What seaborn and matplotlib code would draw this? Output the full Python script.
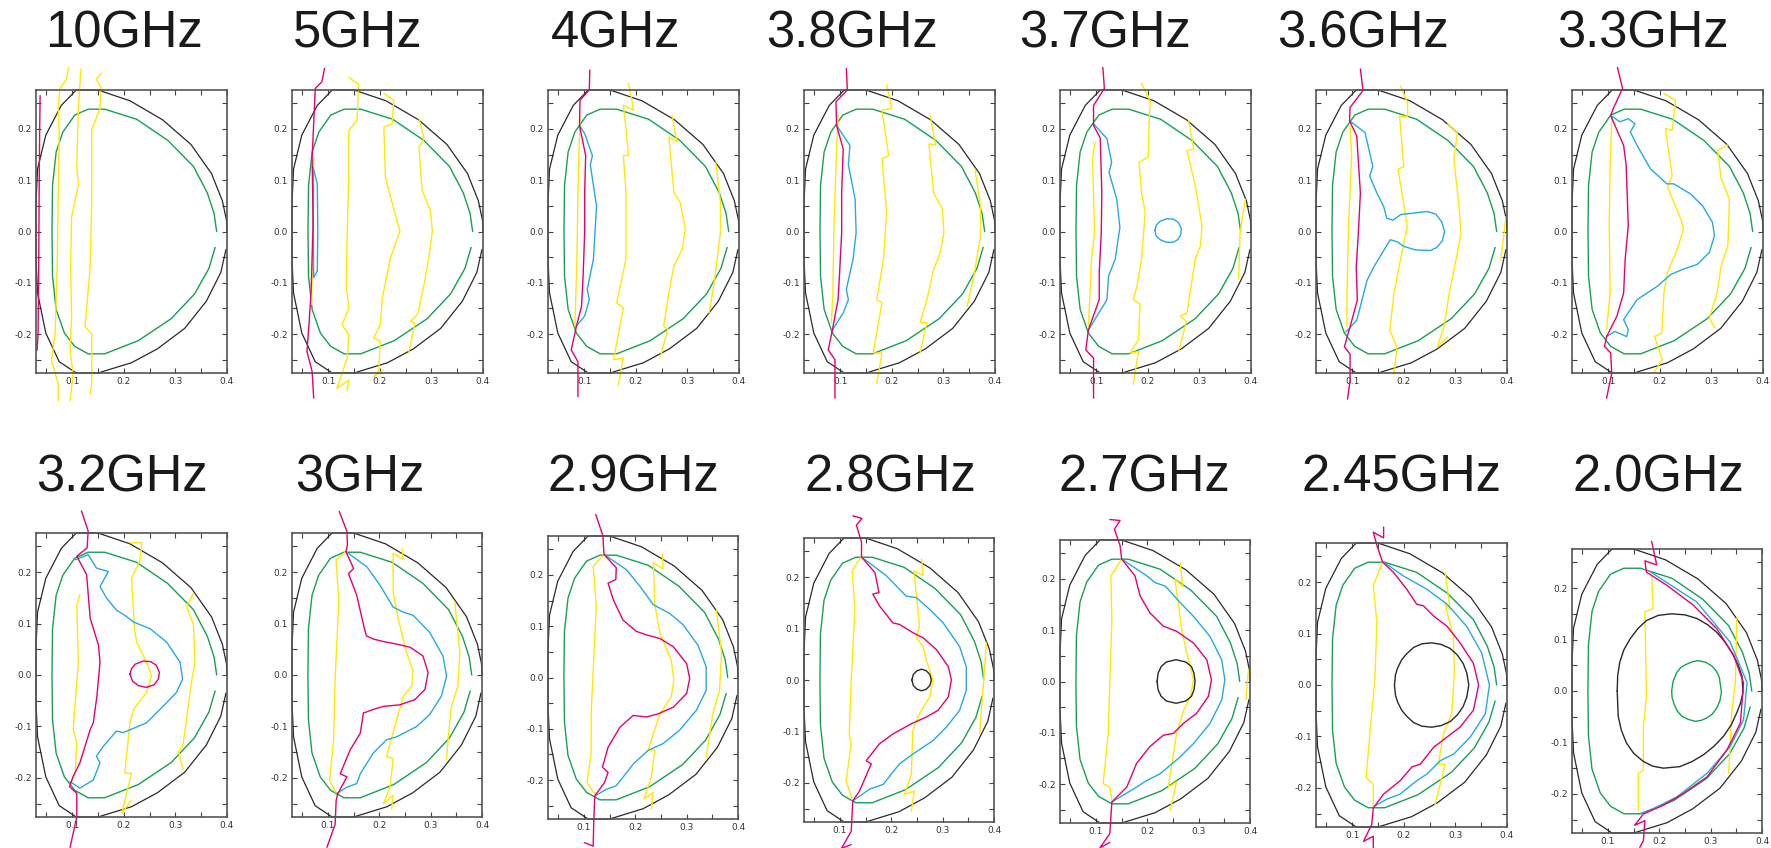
import matplotlib
matplotlib.use("Agg")
import matplotlib.pyplot as plt
import pandas as pd
import seaborn as sns
from matplotlib.ticker import MultipleLocator, FixedLocator

sns.set_style("ticks")
plt.rcParams["font.family"] = ["Liberation Sans", "DejaVu Sans"]
plt.rcParams["axes.unicode_minus"] = False

# ---------------- data (R, Z) ----------------
TITLES = ["10GHz", "5GHz", "4GHz", "3.8GHz", "3.7GHz", "3.6GHz", "3.3GHz",
          "3.2GHz", "3GHz", "2.9GHz", "2.8GHz", "2.7GHz", "2.45GHz", "2.0GHz"]
XTICKS = [0.1, 0.2, 0.3, 0.4]
YTICKS = [-0.2, -0.1, 0.0, 0.1, 0.2]
YTICK_LABELS = ["-0.2", "-0.1", "0.0", "0.1", "0.2"]

OUTER = [(0.398, -0.035), (0.388, -0.080), (0.360, -0.136), (0.318, -0.189), (0.265, -0.229),
         (0.215, -0.256), (0.150, -0.276), (0.108, -0.276), (0.075, -0.254), (0.049, -0.198),
         (0.033, -0.120), (0.030, -0.054), (0.030, 0.0), (0.030, 0.054), (0.033, 0.122),
         (0.049, 0.188), (0.079, 0.246), (0.108, 0.276), (0.150, 0.276), (0.212, 0.255),
         (0.275, 0.218), (0.330, 0.170), (0.370, 0.113), (0.391, 0.060), (0.399, 0.022), (0.400, 0.0)]
INNER = [(0.377, -0.031), (0.365, -0.072), (0.337, -0.122), (0.292, -0.170), (0.228, -0.213),
         (0.163, -0.2386), (0.131, -0.2386), (0.105, -0.224), (0.085, -0.198), (0.069, -0.152),
         (0.062, -0.087), (0.061, 0.0), (0.062, 0.0895), (0.069, 0.155), (0.082, 0.194),
         (0.105, 0.227), (0.131, 0.2386), (0.163, 0.2386), (0.225, 0.219), (0.285, 0.178),
         (0.335, 0.127), (0.362, 0.075), (0.375, 0.035), (0.380, 0.0)]

# 10GHz
P01_MAG = [(0.038, 0.265), (0.037, 0.19), (0.036, 0.06), (0.035, -0.1), (0.034, -0.2), (0.032, -0.232)]
P01_YA = [(0.093, 0.32), (0.089, 0.297), (0.076, 0.278), (0.073, 0.239), (0.075, 0.193), (0.073, 0.062),
          (0.071, -0.069), (0.067, -0.199), (0.060, -0.252), (0.073, -0.297), (0.073, -0.33)]
P01_YB = [(0.117, 0.317), (0.112, 0.239), (0.109, 0.127), (0.112, 0.09), (0.099, 0.029), (0.097, -0.069),
          (0.099, -0.167), (0.096, -0.232), (0.102, -0.278), (0.096, -0.33)]
P01_YC = [(0.157, 0.309), (0.147, 0.297), (0.156, 0.28), (0.154, 0.239), (0.138, 0.199), (0.138, 0.062),
          (0.135, -0.069), (0.125, -0.186), (0.138, -0.199), (0.138, -0.297), (0.135, -0.317)]
# 5GHz
P02_MAG = [(0.093, 0.318), (0.088, 0.292), (0.075, 0.279), (0.072, 0.21), (0.069, 0.145), (0.071, 0.014),
           (0.067, -0.116), (0.063, -0.18), (0.059, -0.234), (0.069, -0.273), (0.072, -0.325)]
P02_CYAN = [(0.071, 0.125), (0.079, 0.093), (0.080, 0.0), (0.079, -0.077), (0.072, -0.09), (0.071, 0.0), (0.071, 0.125)]
P02_YA = [(0.072, 0.145), (0.070, 0.0), (0.068, -0.142)]
P02_YB = [(0.140, 0.301), (0.159, 0.287), (0.156, 0.217), (0.140, 0.197), (0.140, 0.11), (0.137, 0.0),
          (0.135, -0.103), (0.140, -0.15), (0.127, -0.182), (0.140, -0.201), (0.137, -0.247),
          (0.117, -0.306), (0.140, -0.29), (0.137, -0.31)]
P02_YC = [(0.208, 0.269), (0.227, 0.256), (0.224, 0.21), (0.208, 0.204), (0.211, 0.106), (0.221, 0.067),
          (0.239, 0.001), (0.221, -0.051), (0.205, -0.129), (0.201, -0.182), (0.188, -0.208),
          (0.201, -0.214), (0.198, -0.273), (0.188, -0.283), (0.208, -0.27)]
P02_YD = [(0.276, 0.22), (0.286, 0.181), (0.276, 0.165), (0.282, 0.08), (0.298, 0.041), (0.302, 0.001),
          (0.295, -0.051), (0.286, -0.103), (0.273, -0.162), (0.260, -0.175), (0.268, -0.18), (0.256, -0.237)]
# 4GHz
P03_MAG = [(0.111, 0.315), (0.110, 0.276), (0.092, 0.256), (0.091, 0.207), (0.103, 0.148), (0.101, 0.076),
           (0.101, -0.002), (0.098, -0.087), (0.095, -0.146), (0.085, -0.185), (0.075, -0.231),
           (0.088, -0.254), (0.088, -0.322)]
P03_CYAN = [(0.091, 0.207), (0.101, 0.191), (0.116, 0.148), (0.112, 0.13), (0.124, 0.05), (0.121, -0.002),
            (0.118, -0.054), (0.106, -0.113), (0.110, -0.133), (0.101, -0.165), (0.084, -0.185)]
P03_YA = [(0.092, 0.22), (0.090, 0.155), (0.088, 0.076), (0.086, -0.054), (0.084, -0.12), (0.082, -0.185)]
P03_YB = [(0.186, 0.289), (0.196, 0.237), (0.176, 0.246), (0.181, 0.2), (0.186, 0.148), (0.176, 0.148),
          (0.181, 0.076), (0.181, -0.054), (0.163, -0.139), (0.176, -0.149), (0.157, -0.25),
          (0.176, -0.247), (0.166, -0.3)]
P03_YC = [(0.270, 0.227), (0.280, 0.175), (0.264, 0.184), (0.274, 0.076), (0.286, 0.057), (0.296, 0.005),
          (0.290, -0.035), (0.274, -0.067), (0.264, -0.12), (0.254, -0.185), (0.262, -0.19), (0.248, -0.244)]
P03_YD = [(0.355, 0.135), (0.364, 0.057), (0.364, -0.002), (0.351, -0.107), (0.342, -0.159)]
# 3.8GHz
P04_MAG = [(0.112, 0.318), (0.114, 0.276), (0.092, 0.253), (0.093, 0.207), (0.106, 0.161), (0.103, 0.076),
           (0.103, -0.002), (0.099, -0.08), (0.096, -0.133), (0.085, -0.192), (0.077, -0.231),
           (0.090, -0.25), (0.090, -0.325)]
P04_CYAN = [(0.093, 0.207), (0.119, 0.168), (0.116, 0.13), (0.129, 0.063), (0.131, -0.002), (0.125, -0.054),
            (0.112, -0.113), (0.116, -0.133), (0.106, -0.159), (0.085, -0.192)]
P04_YA = [(0.096, 0.227), (0.093, 0.155), (0.088, 0.011), (0.086, -0.12), (0.083, -0.178)]
P04_YB = [(0.190, 0.286), (0.200, 0.24), (0.181, 0.237), (0.194, 0.148), (0.181, 0.142), (0.190, 0.037),
          (0.184, -0.054), (0.171, -0.133), (0.181, -0.139), (0.164, -0.237), (0.181, -0.237), (0.171, -0.296)]
P04_YC = [(0.275, 0.224), (0.285, 0.168), (0.272, 0.171), (0.281, 0.076), (0.298, 0.044), (0.301, -0.002),
          (0.294, -0.041), (0.281, -0.074), (0.268, -0.133), (0.255, -0.178), (0.268, -0.178), (0.255, -0.237)]
P04_YD = [(0.361, 0.122), (0.372, 0.05), (0.372, -0.008), (0.359, -0.087), (0.346, -0.146)]
# 3.7GHz
P05_MAG = [(0.113, 0.32), (0.116, 0.279), (0.095, 0.246), (0.095, 0.207), (0.108, 0.182), (0.111, 0.076),
           (0.110, -0.002), (0.106, -0.08), (0.106, -0.133), (0.085, -0.192), (0.080, -0.231),
           (0.095, -0.247), (0.095, -0.325)]
P05_CYAN = [(0.095, 0.21), (0.121, 0.181), (0.130, 0.135), (0.125, 0.115), (0.140, 0.063), (0.146, 0.008),
            (0.137, -0.054), (0.124, -0.087), (0.121, -0.133), (0.085, -0.192)]
P05_RING = [(0.214, 0.003), (0.217, 0.013), (0.224, 0.020), (0.237, 0.025), (0.250, 0.024), (0.259, 0.018),
            (0.265, 0.006), (0.264, -0.006), (0.258, -0.016), (0.249, -0.021), (0.236, -0.021),
            (0.224, -0.016), (0.216, -0.008), (0.214, 0.003)]
P05_YA = [(0.098, 0.175), (0.093, 0.142), (0.097, -0.002), (0.091, -0.054), (0.088, -0.12), (0.085, -0.185)]
P05_YB = [(0.188, 0.289), (0.205, 0.253), (0.203, 0.227), (0.201, 0.145), (0.183, 0.135), (0.188, 0.076),
          (0.195, 0.037), (0.188, -0.054), (0.179, -0.107), (0.172, -0.133), (0.185, -0.142),
          (0.182, -0.211), (0.166, -0.237), (0.182, -0.234), (0.172, -0.298)]
P05_YC = [(0.279, 0.217), (0.289, 0.161), (0.276, 0.158), (0.292, 0.09), (0.305, 0.011), (0.302, -0.028),
          (0.292, -0.054), (0.286, -0.093), (0.276, -0.159), (0.263, -0.165), (0.275, -0.175), (0.260, -0.234)]
P05_YD = [(0.389, 0.063), (0.379, -0.002), (0.376, -0.093)]
# 3.6GHz
P06_MAG = [(0.116, 0.317), (0.121, 0.275), (0.096, 0.242), (0.095, 0.216), (0.109, 0.186), (0.116, 0.075),
           (0.112, -0.003), (0.108, -0.069), (0.110, -0.134), (0.096, -0.186), (0.085, -0.225),
           (0.096, -0.239), (0.096, -0.291), (0.091, -0.327)]
P06_CYAN = [(0.095, 0.216), (0.125, 0.193), (0.140, 0.127), (0.134, 0.108), (0.148, 0.075), (0.161, 0.049),
            (0.167, 0.026), (0.179, 0.022), (0.194, 0.033), (0.220, 0.036), (0.245, 0.039), (0.262, 0.034),
            (0.274, 0.018), (0.279, 0.0), (0.275, -0.018), (0.264, -0.031), (0.252, -0.037), (0.223, -0.036),
            (0.200, -0.029), (0.187, -0.02), (0.174, -0.016), (0.160, -0.039), (0.142, -0.069),
            (0.129, -0.095), (0.109, -0.173), (0.088, -0.196)]
P06_YA = [(0.096, 0.206), (0.099, 0.147), (0.093, 0.01), (0.090, -0.121), (0.090, -0.186)]
P06_YB = [(0.194, 0.284), (0.207, 0.252), (0.208, 0.225), (0.192, 0.224), (0.200, 0.127), (0.189, 0.121),
          (0.207, 0.01), (0.198, -0.033), (0.181, -0.121), (0.173, -0.193), (0.187, -0.225), (0.181, -0.278)]
P06_YC = [(0.285, 0.209), (0.304, 0.193), (0.297, 0.141), (0.307, 0.049), (0.311, -0.003), (0.301, -0.056),
          (0.288, -0.121), (0.278, -0.186), (0.265, -0.225), (0.285, -0.206)]
P06_YD = [(0.398, 0.029), (0.388, -0.056)]
# 3.3GHz
P07_MAG = [(0.118, 0.32), (0.128, 0.279), (0.110, 0.24), (0.105, 0.226), (0.130, 0.168), (0.135, 0.129),
           (0.139, 0.011), (0.133, -0.054), (0.130, -0.12), (0.117, -0.165), (0.097, -0.205),
           (0.093, -0.224), (0.105, -0.237), (0.107, -0.276), (0.097, -0.325)]
P07_CYAN = [(0.105, 0.226), (0.123, 0.214), (0.139, 0.22), (0.152, 0.21), (0.143, 0.194), (0.156, 0.168),
            (0.182, 0.122), (0.214, 0.093), (0.227, 0.093), (0.260, 0.073), (0.283, 0.05), (0.302, 0.018),
            (0.306, -0.008), (0.296, -0.041), (0.273, -0.064), (0.244, -0.074), (0.221, -0.084),
            (0.195, -0.107), (0.156, -0.133), (0.130, -0.172), (0.139, -0.191), (0.136, -0.205),
            (0.113, -0.195), (0.097, -0.205)]
P07_YA = [(0.107, 0.224), (0.104, 0.129), (0.102, 0.011), (0.104, -0.12), (0.097, -0.191)]
P07_YB = [(0.208, 0.269), (0.231, 0.256), (0.224, 0.197), (0.211, 0.201), (0.224, 0.109), (0.215, 0.086),
          (0.241, 0.024), (0.246, 0.005), (0.234, -0.035), (0.215, -0.08), (0.208, -0.12), (0.204, -0.198),
          (0.190, -0.205), (0.205, -0.25), (0.188, -0.276)]
P07_YC = [(0.332, 0.169), (0.312, 0.158), (0.319, 0.103), (0.335, 0.063), (0.332, -0.028), (0.319, -0.067),
          (0.311, -0.12), (0.296, -0.169), (0.307, -0.188)]
# 3.2GHz
P08_MAG = [(0.118, 0.319), (0.131, 0.28), (0.129, 0.247), (0.109, 0.231), (0.128, 0.195), (0.135, 0.11),
           (0.151, 0.058), (0.154, 0.025), (0.148, -0.041), (0.141, -0.093), (0.135, -0.106),
           (0.115, -0.171), (0.102, -0.197), (0.095, -0.217), (0.109, -0.23), (0.109, -0.276), (0.096, -0.335)]
P08_RING = [(0.212, 0.002), (0.215, 0.012), (0.222, 0.021), (0.238, 0.027), (0.252, 0.026), (0.263, 0.019),
            (0.269, 0.005), (0.267, -0.008), (0.259, -0.019), (0.244, -0.024), (0.229, -0.021),
            (0.217, -0.012), (0.212, 0.002)]
P08_CYAN = [(0.106, 0.224), (0.131, 0.234), (0.147, 0.208), (0.170, 0.201), (0.154, 0.172), (0.167, 0.149),
            (0.186, 0.126), (0.202, 0.116), (0.219, 0.103), (0.251, 0.09), (0.283, 0.064), (0.309, 0.025),
            (0.314, -0.008), (0.302, -0.034), (0.277, -0.06), (0.244, -0.093), (0.199, -0.112),
            (0.186, -0.109), (0.160, -0.139), (0.147, -0.158), (0.154, -0.171), (0.141, -0.204),
            (0.115, -0.22), (0.096, -0.207)]
P08_YA = [(0.115, 0.156), (0.109, 0.136), (0.112, 0.025), (0.102, -0.106), (0.109, -0.132), (0.106, -0.191),
          (0.096, -0.213)]
P08_YB = [(0.212, 0.257), (0.235, 0.257), (0.231, 0.221), (0.215, 0.188), (0.221, 0.087), (0.225, 0.064),
          (0.244, 0.025), (0.254, -0.001), (0.244, -0.034), (0.219, -0.067), (0.212, -0.093),
          (0.202, -0.191), (0.215, -0.191), (0.196, -0.269), (0.215, -0.243)]
P08_YC = [(0.335, 0.159), (0.322, 0.133), (0.335, 0.097), (0.338, 0.025), (0.331, -0.014), (0.319, -0.106),
          (0.314, -0.139), (0.306, -0.148), (0.315, -0.184)]
# 3GHz
P09_MAG = [(0.122, 0.318), (0.137, 0.279), (0.138, 0.253), (0.135, 0.24), (0.150, 0.207), (0.140, 0.197),
           (0.156, 0.155), (0.172, 0.086), (0.175, 0.076), (0.188, 0.07), (0.208, 0.065), (0.234, 0.06),
           (0.260, 0.054), (0.285, 0.037), (0.295, 0.005), (0.289, -0.028), (0.269, -0.048),
           (0.240, -0.058), (0.208, -0.061), (0.188, -0.067), (0.169, -0.074), (0.163, -0.113),
           (0.143, -0.146), (0.124, -0.192), (0.137, -0.198), (0.119, -0.231), (0.116, -0.244),
           (0.114, -0.29), (0.098, -0.335)]
P09_CYAN = [(0.135, 0.24), (0.176, 0.21), (0.201, 0.175), (0.227, 0.132), (0.247, 0.122), (0.266, 0.116),
            (0.298, 0.083), (0.324, 0.037), (0.331, -0.002), (0.321, -0.041), (0.298, -0.077),
            (0.273, -0.1), (0.234, -0.12), (0.214, -0.126), (0.188, -0.152), (0.163, -0.192),
            (0.156, -0.211), (0.137, -0.218), (0.116, -0.231)]
P09_YA = [(0.135, 0.24), (0.116, 0.224), (0.121, 0.142), (0.114, -0.008), (0.111, -0.126), (0.103, -0.205),
          (0.116, -0.229)]
P09_YB = [(0.244, 0.246), (0.247, 0.224), (0.227, 0.237), (0.227, 0.161), (0.237, 0.109), (0.253, 0.044),
          (0.266, 0.008), (0.263, -0.022), (0.247, -0.041), (0.234, -0.087), (0.221, -0.133),
          (0.214, -0.159), (0.227, -0.162), (0.221, -0.218), (0.208, -0.25), (0.227, -0.234), (0.224, -0.26)]
P09_YC = [(0.347, 0.142), (0.357, 0.044), (0.353, -0.022), (0.340, -0.061), (0.334, -0.126), (0.331, -0.165)]
# 2.9GHz
P10_MAG = [(0.123, 0.318), (0.137, 0.276), (0.139, 0.24), (0.163, 0.214), (0.162, 0.191), (0.147, 0.184),
           (0.157, 0.152), (0.176, 0.112), (0.202, 0.09), (0.222, 0.083), (0.248, 0.076), (0.274, 0.06),
           (0.300, 0.027), (0.306, -0.002), (0.300, -0.031), (0.274, -0.058), (0.244, -0.071),
           (0.222, -0.077), (0.196, -0.074), (0.170, -0.097), (0.147, -0.136), (0.136, -0.175),
           (0.147, -0.185), (0.140, -0.205), (0.121, -0.231), (0.119, -0.286), (0.118, -0.329), (0.101, -0.322)]
P10_CYAN = [(0.139, 0.24), (0.183, 0.21), (0.209, 0.178), (0.235, 0.142), (0.267, 0.125), (0.293, 0.103),
            (0.322, 0.063), (0.338, 0.021), (0.338, -0.025), (0.319, -0.064), (0.286, -0.103),
            (0.254, -0.129), (0.225, -0.142), (0.196, -0.169), (0.163, -0.211), (0.144, -0.218), (0.121, -0.231)]
P10_YA = [(0.139, 0.24), (0.118, 0.217), (0.124, 0.139), (0.114, -0.071), (0.114, -0.149), (0.106, -0.205),
          (0.121, -0.227)]
P10_YB = [(0.253, 0.24), (0.254, 0.212), (0.235, 0.224), (0.238, 0.142), (0.248, 0.086), (0.270, 0.034),
          (0.275, -0.005), (0.270, -0.038), (0.248, -0.071), (0.235, -0.11), (0.225, -0.142),
          (0.238, -0.141), (0.231, -0.195), (0.217, -0.237), (0.235, -0.224), (0.231, -0.257)]
P10_YC = [(0.358, 0.132), (0.368, 0.047), (0.364, -0.025), (0.351, -0.071), (0.345, -0.11), (0.338, -0.156)]
# 2.8GHz
P11_MAG = [(0.125, 0.319), (0.143, 0.314), (0.132, 0.301), (0.142, 0.268), (0.142, 0.239), (0.168, 0.209),
           (0.176, 0.17), (0.164, 0.167), (0.177, 0.144), (0.203, 0.111), (0.216, 0.108), (0.242, 0.092),
           (0.262, 0.082), (0.288, 0.059), (0.311, 0.026), (0.317, 0.0), (0.311, -0.033), (0.291, -0.059),
           (0.268, -0.072), (0.239, -0.085), (0.203, -0.105), (0.177, -0.124), (0.151, -0.157),
           (0.161, -0.163), (0.138, -0.216), (0.125, -0.235), (0.122, -0.294), (0.103, -0.327), (0.122, -0.32)]
P11_CYAN = [(0.142, 0.239), (0.190, 0.203), (0.229, 0.163), (0.249, 0.16), (0.275, 0.137), (0.301, 0.111),
            (0.333, 0.065), (0.346, 0.026), (0.346, -0.02), (0.333, -0.059), (0.307, -0.092),
            (0.281, -0.118), (0.242, -0.144), (0.216, -0.163), (0.184, -0.203), (0.158, -0.212), (0.125, -0.235)]
P11_RING = [(0.240, 0.0), (0.243, 0.011), (0.250, 0.018), (0.259, 0.021), (0.268, 0.018), (0.275, 0.011),
            (0.278, 0.0), (0.275, -0.011), (0.268, -0.018), (0.259, -0.021), (0.250, -0.018),
            (0.243, -0.011), (0.240, 0.0)]
P11_YA = [(0.142, 0.239), (0.138, 0.235), (0.124, 0.212), (0.129, 0.137), (0.122, 0.0), (0.118, -0.105),
          (0.122, -0.124), (0.112, -0.196), (0.124, -0.232)]
P11_YB = [(0.259, 0.235), (0.262, 0.203), (0.244, 0.212), (0.255, 0.105), (0.249, 0.082), (0.262, 0.065),
          (0.268, 0.039), (0.281, 0.0), (0.275, -0.033), (0.255, -0.065), (0.242, -0.098), (0.239, -0.183),
          (0.226, -0.222), (0.245, -0.216), (0.239, -0.255)]
P11_YC = [(0.385, 0.072), (0.380, 0.0), (0.372, -0.105)]
# 2.7GHz
P12_MAG = [(0.127, 0.316), (0.147, 0.314), (0.136, 0.297), (0.147, 0.265), (0.150, 0.239), (0.176, 0.206),
           (0.186, 0.167), (0.205, 0.134), (0.231, 0.108), (0.257, 0.098), (0.290, 0.075), (0.316, 0.042),
           (0.325, 0.003), (0.319, -0.029), (0.296, -0.062), (0.270, -0.082), (0.251, -0.101),
           (0.231, -0.105), (0.205, -0.127), (0.179, -0.16), (0.160, -0.206), (0.131, -0.235),
           (0.127, -0.297), (0.108, -0.324), (0.127, -0.314)]
P12_CYAN = [(0.150, 0.239), (0.199, 0.206), (0.215, 0.193), (0.235, 0.186), (0.264, 0.154), (0.290, 0.127),
            (0.322, 0.088), (0.345, 0.042), (0.351, 0.003), (0.345, -0.036), (0.322, -0.082),
            (0.290, -0.121), (0.264, -0.147), (0.225, -0.18), (0.199, -0.193), (0.179, -0.206), (0.131, -0.235)]
P12_RING = [(0.219, 0.0), (0.221, 0.016), (0.227, 0.029), (0.237, 0.038), (0.256, 0.0425), (0.275, 0.038),
            (0.286, 0.029), (0.291, 0.016), (0.293, 0.0), (0.291, -0.016), (0.286, -0.029), (0.275, -0.038),
            (0.256, -0.0425), (0.237, -0.038), (0.227, -0.029), (0.221, -0.016), (0.219, 0.0)]
P12_YA = [(0.150, 0.239), (0.129, 0.206), (0.131, 0.121), (0.127, -0.003), (0.124, -0.101), (0.114, -0.199),
          (0.127, -0.206), (0.131, -0.232)]
P12_YB = [(0.264, 0.232), (0.269, 0.186), (0.254, 0.199), (0.267, 0.101), (0.277, 0.056), (0.290, 0.003),
          (0.284, -0.029), (0.271, -0.056), (0.257, -0.101), (0.241, -0.206), (0.257, -0.196), (0.244, -0.252)]
P12_YC = [(0.397, 0.023), (0.392, -0.036)]
# 2.45GHz
P13_MAG = [(0.161, 0.307), (0.161, 0.286), (0.141, 0.297), (0.148, 0.271), (0.159, 0.239), (0.180, 0.219),
           (0.206, 0.186), (0.225, 0.157), (0.238, 0.154), (0.258, 0.134), (0.284, 0.114), (0.309, 0.082),
           (0.335, 0.042), (0.345, 0.0), (0.335, -0.049), (0.309, -0.082), (0.284, -0.101), (0.258, -0.121),
           (0.232, -0.154), (0.216, -0.159), (0.193, -0.186), (0.161, -0.212), (0.141, -0.239),
           (0.138, -0.271), (0.122, -0.304), (0.141, -0.294), (0.141, -0.317)]
P13_CYAN = [(0.161, 0.239), (0.199, 0.212), (0.245, 0.186), (0.284, 0.157), (0.322, 0.114), (0.351, 0.062),
            (0.366, 0.0), (0.358, -0.056), (0.329, -0.101), (0.297, -0.134), (0.271, -0.147),
            (0.245, -0.173), (0.225, -0.186), (0.193, -0.212), (0.167, -0.222), (0.144, -0.235)]
P13_RING = [(0.182, 0.0), (0.184, 0.020), (0.188, 0.033), (0.196, 0.049), (0.205, 0.060), (0.219, 0.073),
            (0.235, 0.080), (0.254, 0.082), (0.272, 0.079), (0.290, 0.071), (0.304, 0.058), (0.315, 0.042),
            (0.322, 0.024), (0.326, 0.0), (0.322, -0.024), (0.315, -0.042), (0.304, -0.058),
            (0.290, -0.071), (0.272, -0.079), (0.254, -0.082), (0.235, -0.080), (0.219, -0.073),
            (0.205, -0.060), (0.196, -0.049), (0.188, -0.033), (0.184, -0.020), (0.182, 0.0)]
P13_YA = [(0.159, 0.239), (0.141, 0.193), (0.148, 0.121), (0.144, 0.01), (0.135, -0.088), (0.127, -0.18),
          (0.141, -0.193), (0.141, -0.235)]
P13_YB = [(0.280, 0.219), (0.290, 0.147), (0.280, 0.157), (0.296, 0.095), (0.298, 0.023), (0.293, -0.056),
          (0.277, -0.095), (0.267, -0.154), (0.280, -0.154), (0.261, -0.232)]
# 2.0GHz
P14_MAG = [(0.185, 0.291), (0.195, 0.245), (0.172, 0.253), (0.175, 0.231), (0.214, 0.206), (0.266, 0.167),
           (0.312, 0.121), (0.345, 0.069), (0.364, 0.016), (0.358, -0.062), (0.332, -0.114),
           (0.293, -0.167), (0.247, -0.199), (0.208, -0.222), (0.169, -0.239), (0.152, -0.261),
           (0.172, -0.252), (0.169, -0.291), (0.162, -0.304)]
P14_CYAN = [(0.182, 0.232), (0.273, 0.173), (0.338, 0.095), (0.371, 0.016), (0.364, -0.056), (0.338, -0.108),
            (0.293, -0.16), (0.234, -0.206), (0.182, -0.232), (0.162, -0.239)]
P14_RING = [(0.118, 0.0), (0.119, 0.030), (0.123, 0.056), (0.131, 0.080), (0.143, 0.101), (0.158, 0.121),
            (0.175, 0.137), (0.198, 0.147), (0.224, 0.150), (0.250, 0.148), (0.273, 0.141), (0.294, 0.129),
            (0.312, 0.114), (0.328, 0.095), (0.341, 0.075), (0.353, 0.052), (0.361, 0.029), (0.363, -0.003),
            (0.358, -0.024), (0.351, -0.042), (0.340, -0.066), (0.325, -0.088), (0.307, -0.107),
            (0.286, -0.124), (0.264, -0.137), (0.240, -0.147), (0.208, -0.150), (0.187, -0.146),
            (0.169, -0.137), (0.150, -0.121), (0.136, -0.101), (0.126, -0.076), (0.120, -0.049), (0.118, 0.0)]
P14_CORE = [(0.224, 0.0), (0.227, 0.019), (0.234, 0.036), (0.242, 0.046), (0.253, 0.052), (0.265, 0.057),
            (0.276, 0.059), (0.290, 0.056), (0.302, 0.049), (0.311, 0.039), (0.317, 0.026), (0.321, -0.003),
            (0.318, -0.019), (0.312, -0.033), (0.303, -0.045), (0.293, -0.052), (0.282, -0.057),
            (0.270, -0.059), (0.256, -0.055), (0.244, -0.049), (0.235, -0.039), (0.229, -0.026),
            (0.225, -0.013), (0.224, 0.0)]
P14_YA = [(0.185, 0.225), (0.188, 0.16), (0.172, 0.154), (0.175, -0.01), (0.169, -0.069), (0.169, -0.154),
          (0.159, -0.16), (0.159, -0.232)]
P14_YB = [(0.351, 0.141), (0.348, 0.016), (0.341, -0.042), (0.335, -0.16)]

# ---------------- styling / layout ----------------
C_BLACK = "#2a2a2a"
C_GREEN = "#17a055"
C_YELLOW = "#ffe900"
C_MAG = "#e8006f"
C_CYAN = "#26a9e3"

PANELS = [
    [(P01_YA, C_YELLOW), (P01_YB, C_YELLOW), (P01_YC, C_YELLOW), (P01_MAG, C_MAG)],
    [(P02_YA, C_YELLOW), (P02_YB, C_YELLOW), (P02_YC, C_YELLOW), (P02_YD, C_YELLOW), (P02_CYAN, C_CYAN), (P02_MAG, C_MAG)],
    [(P03_YA, C_YELLOW), (P03_YB, C_YELLOW), (P03_YC, C_YELLOW), (P03_YD, C_YELLOW), (P03_CYAN, C_CYAN), (P03_MAG, C_MAG)],
    [(P04_YA, C_YELLOW), (P04_YB, C_YELLOW), (P04_YC, C_YELLOW), (P04_YD, C_YELLOW), (P04_CYAN, C_CYAN), (P04_MAG, C_MAG)],
    [(P05_YA, C_YELLOW), (P05_YB, C_YELLOW), (P05_YC, C_YELLOW), (P05_YD, C_YELLOW), (P05_CYAN, C_CYAN), (P05_RING, C_CYAN), (P05_MAG, C_MAG)],
    [(P06_YA, C_YELLOW), (P06_YB, C_YELLOW), (P06_YC, C_YELLOW), (P06_YD, C_YELLOW), (P06_CYAN, C_CYAN), (P06_MAG, C_MAG)],
    [(P07_YA, C_YELLOW), (P07_YB, C_YELLOW), (P07_YC, C_YELLOW), (P07_CYAN, C_CYAN), (P07_MAG, C_MAG)],
    [(P08_YA, C_YELLOW), (P08_YB, C_YELLOW), (P08_YC, C_YELLOW), (P08_CYAN, C_CYAN), (P08_MAG, C_MAG), (P08_RING, C_MAG)],
    [(P09_YA, C_YELLOW), (P09_YB, C_YELLOW), (P09_YC, C_YELLOW), (P09_CYAN, C_CYAN), (P09_MAG, C_MAG)],
    [(P10_YA, C_YELLOW), (P10_YB, C_YELLOW), (P10_YC, C_YELLOW), (P10_CYAN, C_CYAN), (P10_MAG, C_MAG)],
    [(P11_YA, C_YELLOW), (P11_YB, C_YELLOW), (P11_YC, C_YELLOW), (P11_CYAN, C_CYAN), (P11_MAG, C_MAG), (P11_RING, C_BLACK)],
    [(P12_YA, C_YELLOW), (P12_YB, C_YELLOW), (P12_YC, C_YELLOW), (P12_CYAN, C_CYAN), (P12_MAG, C_MAG), (P12_RING, C_BLACK)],
    [(P13_YA, C_YELLOW), (P13_YB, C_YELLOW), (P13_RING, C_BLACK), (P13_CYAN, C_CYAN), (P13_MAG, C_MAG)],
    [(P14_YA, C_YELLOW), (P14_YB, C_YELLOW), (P14_RING, C_BLACK), (P14_CORE, C_GREEN), (P14_CYAN, C_CYAN), (P14_MAG, C_MAG)],
]

# axes boxes in pixels: (left, top, right, bottom)
BOXES = [(36 + 256 * i, 90, 227 + 256 * i, 373) for i in range(7)] + [
    (36, 533, 227, 817), (292, 533, 482, 817), (548, 536, 738, 819), (804, 538, 994, 822),
    (1060, 540, 1250, 823), (1316, 543, 1507, 827), (1572, 549, 1762, 833)]
TITLE_X = [124, 358, 616, 852, 1105, 1363, 1643, 122, 360, 633, 890, 1144, 1401, 1658]
TITLE_Y = [48] * 7 + [491] * 7

W, H = 1771, 848
fig = plt.figure(figsize=(W / 100, H / 100), dpi=100)


def draw(ax, pts, color, lw=1.0):
    df = pd.DataFrame(pts, columns=["R", "Z"])
    sns.lineplot(data=df, x="R", y="Z", sort=False, estimator=None, color=color,
                 linewidth=lw, ax=ax, clip_on=False, legend=False)


for k in range(14):
    l, t, r, b = BOXES[k]
    ax = fig.add_axes([l / W, 1 - b / H, (r - l) / W, (b - t) / H])
    draw(ax, OUTER, C_BLACK, 0.9)
    draw(ax, INNER, C_GREEN, 1.0)
    for pts, col in PANELS[k]:
        draw(ax, pts, col, 1.0)
    ax.set_xlim(0.03, 0.40)
    ax.set_ylim(-0.276, 0.276)
    ax.set_xlabel("")
    ax.set_ylabel("")
    ax.xaxis.set_major_locator(FixedLocator(XTICKS))
    ax.xaxis.set_minor_locator(MultipleLocator(0.05))
    ax.yaxis.set_major_locator(FixedLocator(YTICKS))
    ax.yaxis.set_minor_locator(MultipleLocator(0.05))
    ax.set_xticklabels([f"{v:.1f}" for v in XTICKS])
    ax.set_yticklabels(YTICK_LABELS)
    ax.tick_params(which="both", direction="in", top=True, right=True, length=3.5,
                   width=0.8, color="#444444", labelsize=6.5, labelcolor="#333333", pad=3)
    for lbl in ax.get_xticklabels() + ax.get_yticklabels():
        lbl.set_family("DejaVu Sans")
    for sp in ax.spines.values():
        sp.set_visible(True)
        sp.set_color("#555555")
        sp.set_linewidth(1.2)
    fig.text(TITLE_X[k] / W, 1 - TITLE_Y[k] / H, TITLES[k], ha="center", va="baseline",
             fontsize=36.5, color="#1a1a1a", family=["Liberation Sans", "DejaVu Sans"])

fig.savefig("out.png", dpi=100)
